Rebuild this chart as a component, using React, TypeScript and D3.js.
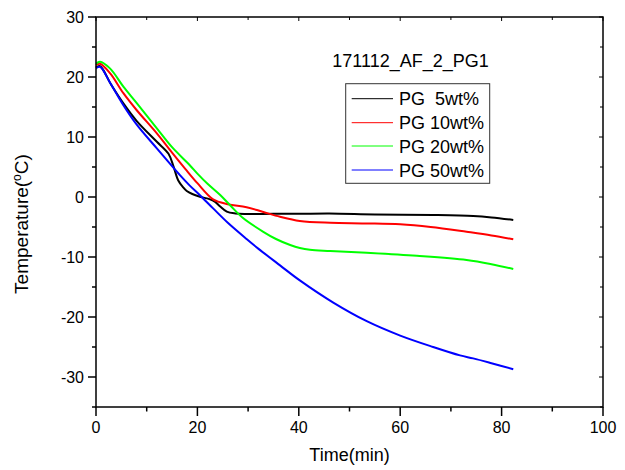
import React from "react";
import * as d3 from "d3";

const title = "171112_AF_2_PG1";
const seriesNames = ["PG  5wt%", "PG 10wt%", "PG 20wt%", "PG 50wt%"];
const seriesColors = ["#000000", "#ff0000", "#00ff00", "#0000ff"];

const t5 = [0, 0.8, 3, 5.4, 8, 12, 14.3, 15.3, 16.2, 17.2, 17.9, 19, 20.5, 22.5, 23.5, 24.5, 25.8, 27.5, 29.7, 35, 40, 46, 55, 66.5, 74.4, 78, 82.3];
const v5 = [21.6, 21.8, 18.7, 15.6, 12.7, 9.2, 7.2, 5.05, 2.8, 1.6, 1.0, 0.5, 0.05, -0.4, -0.8, -1.6, -2.45, -2.75, -2.83, -2.8, -2.8, -2.75, -2.9, -3.0, -3.17, -3.4, -3.83];

const t10 = [0, 0.8, 2.8, 5.4, 8, 12, 15, 17.6, 20, 23.1, 26, 29.7, 33, 36.3, 40.2, 46.2, 53, 60, 66, 73.1, 78, 82.3];
const v10 = [22.0, 22.2, 20.6, 17.3, 14.5, 10.6, 7.4, 4.7, 2.3, -0.4, -1.2, -1.7, -2.5, -3.3, -4.0, -4.3, -4.4, -4.55, -5.0, -5.8, -6.4, -7.05];

const t20 = [0, 0.8, 2.8, 5.4, 8, 12, 15, 18.5, 20, 22, 24.5, 26.4, 29, 33, 35.5, 38.3, 40.2, 42.2, 46.2, 53.4, 63.3, 73.1, 78, 82.3];
const v20 = [22.2, 22.55, 21.4, 18.4, 15.7, 11.45, 8.3, 5.3, 3.9, 2.2, 0.33, -1.33, -3.5, -5.8, -7.0, -8.0, -8.5, -8.8, -9.0, -9.3, -9.8, -10.5, -11.2, -12.0];

const t50 = [0, 0.8, 2.8, 5.4, 8, 12, 16.6, 18.5, 20.5, 23.1, 26, 29.7, 32, 36.3, 40.2, 46.8, 53.4, 60, 66.5, 71.8, 74.4, 78, 82.3];
const v50 = [21.45, 21.7, 19.0, 15.3, 12.1, 8.1, 3.6, 1.9, 0.3, -1.9, -4.3, -7.0, -8.6, -11.4, -13.9, -17.6, -20.7, -23.1, -25.0, -26.4, -26.9, -27.7, -28.7];

const xTicks = [0, 20, 40, 60, 80, 100];
const yTicks = [-30, -20, -10, 0, 10, 20, 30];

const W = 625;
const H = 470;
const L = 96, R = 603, T = 17, B = 407;
const FONT = "'Liberation Sans', Arial, sans-serif";

export default function App() {
  const x = d3.scaleLinear().domain([0, 100]).range([L, R]);
  const y = d3.scaleLinear().domain([-35, 30]).range([B, T]);
  const series = [
    { t: t5, v: v5 },
    { t: t10, v: v10 },
    { t: t20, v: v20 },
    { t: t50, v: v50 },
  ];
  const line = d3
    .line<[number, number]>()
    .x((d) => x(d[0]))
    .y((d) => y(d[1]))
    .curve(d3.curveCatmullRom.alpha(0.5));

  const xMinor = d3.range(10, 100, 20);
  const yMinor = d3.range(-35, 30, 10).filter((v) => !yTicks.includes(v));

  const legendY = [98.7, 122.7, 146, 170];

  return (
    <svg
      width={W}
      height={H}
      style={{ position: "absolute", left: 0, top: 0, background: "#fff" }}
      fontFamily={FONT}
    >
      <rect x={0} y={0} width={W} height={H} fill="#fff" />
      {series.map((s, i) => (
        <path
          key={i}
          d={line(s.t.map((tt, k) => [tt, s.v[k]]) as [number, number][]) || ""}
          fill="none"
          stroke={seriesColors[i]}
          strokeWidth={2}
          strokeLinejoin="round"
        />
      ))}
      {/* frame */}
      <rect x={L} y={T} width={R - L} height={B - T} fill="none" stroke="#000" strokeWidth={1.5} />
      {/* bottom axis ticks */}
      {xTicks.map((v) => (
        <g key={"xb" + v}>
          <line x1={x(v)} x2={x(v)} y1={B} y2={B + 9} stroke="#000" strokeWidth={1.5} />
          <line x1={x(v)} x2={x(v)} y1={T} y2={T + 4} stroke="#000" strokeWidth={1} />
          <text x={x(v)} y={433} textAnchor="middle" fontSize={16} fill="#000">
            {v}
          </text>
        </g>
      ))}
      {xMinor.map((v) => (
        <g key={"xm" + v}>
          <line x1={x(v)} x2={x(v)} y1={B} y2={B + 4.5} stroke="#000" strokeWidth={1.5} />
          <line x1={x(v)} x2={x(v)} y1={T} y2={T + 3} stroke="#000" strokeWidth={1} />
        </g>
      ))}
      {yTicks.map((v) => (
        <g key={"yl" + v}>
          <line x1={L - 8} x2={L} y1={y(v)} y2={y(v)} stroke="#000" strokeWidth={1.5} />
          <line x1={R - 4} x2={R} y1={y(v)} y2={y(v)} stroke="#000" strokeWidth={1} />
          <text x={84} y={y(v)} dy="0.36em" textAnchor="end" fontSize={16} fill="#000">
            {v}
          </text>
        </g>
      ))}
      {yMinor.map((v) => (
        <g key={"ym" + v}>
          <line x1={L - 4} x2={L} y1={y(v)} y2={y(v)} stroke="#000" strokeWidth={1.5} />
          <line x1={R - 3} x2={R} y1={y(v)} y2={y(v)} stroke="#000" strokeWidth={1} />
        </g>
      ))}
      {/* axis titles */}
      <text x={(L + R) / 2} y={461} textAnchor="middle" fontSize={18} fill="#000">
        Time(min)
      </text>
      <text
        transform={`translate(28,224) rotate(-90)`}
        textAnchor="middle"
        fontSize={19}
        fill="#000"
      >
        Temperature(
        <tspan fontSize={12} dy={-7}>o</tspan>
        <tspan dy={7}>C)</tspan>
      </text>
      {/* title */}
      <text x={410.5} y={66.7} textAnchor="middle" fontSize={18} fill="#000">
        {title}
      </text>
      {/* legend */}
      <rect x={345.7} y={83.7} width={144} height={99.6} fill="#fff" stroke="#333" strokeWidth={1} />
      {seriesNames.map((n, i) => (
        <g key={"lg" + i}>
          <line x1={351.7} x2={393} y1={legendY[i]} y2={legendY[i]} stroke={seriesColors[i]} strokeWidth={1} />
          <text
            x={399}
            y={legendY[i] + 6.5}
            fontSize={18}
            fill="#000"
            style={{ whiteSpace: "pre" }}
          >
            {n}
          </text>
        </g>
      ))}
    </svg>
  );
}
